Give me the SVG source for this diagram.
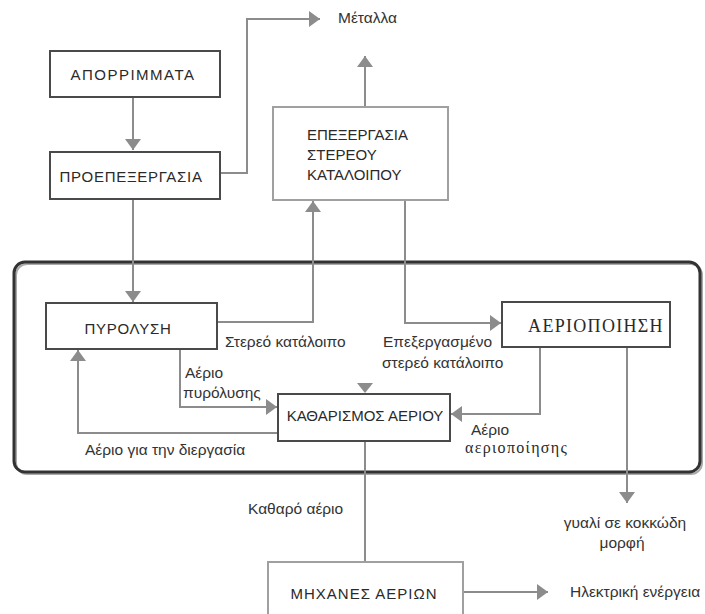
<svg xmlns="http://www.w3.org/2000/svg" width="705" height="614" viewBox="0 0 705 614">
<defs>
<marker id="ah" viewBox="0 0 11 16" refX="11" refY="8" markerWidth="11" markerHeight="16" markerUnits="userSpaceOnUse" orient="auto">
<path d="M0,0 L11,8 L0,16 z" fill="#8c8c8c"/>
</marker>
<style>
.box{fill:#fff;stroke:#4a4a4a;stroke-width:2}
.lbox{fill:#fff;stroke:#a0a0a0;stroke-width:2}
.c{fill:none;stroke:#8c8c8c;stroke-width:2}
.t{font-family:"Liberation Sans",Arial,sans-serif;font-size:15px;fill:#2a2a2a}
.l{font-family:"Liberation Sans",Arial,sans-serif;font-size:15.5px;fill:#333}
.s{font-family:"Liberation Serif","Times New Roman",serif;fill:#2a2a2a}
</style>
</defs>
<rect width="705" height="614" fill="#fff"/>
<g id="frame">
<rect x="16" y="264" width="686" height="210" rx="11" fill="none" stroke="#aaa" stroke-width="2"/>
<rect x="14" y="262" width="686" height="210" rx="11" fill="none" stroke="#333" stroke-width="3"/>
</g>
<g id="connectors">
<path class="c" d="M133,97 V150" marker-end="url(#ah)"/>
<path class="c" d="M220,173 H247 V19 H320" marker-end="url(#ah)"/>
<path class="c" d="M365,107 V56" marker-end="url(#ah)"/>
<path class="c" d="M133,199 V302" marker-end="url(#ah)"/>
<path class="c" d="M217,322 H313 V201" marker-end="url(#ah)"/>
<path class="c" d="M405,200 V323 H501" marker-end="url(#ah)"/>
<path class="c" d="M180,349 V407 H277" marker-end="url(#ah)"/>
<path class="c" d="M278,433 H78 V350" marker-end="url(#ah)"/>
<path class="c" d="M540,347 V414 H451" marker-end="url(#ah)"/>
<path d="M357,383 L373,383 L365,393 z" fill="#8c8c8c"/>
<path class="c" d="M627,347 V503" marker-end="url(#ah)"/>
<path class="c" d="M365,441 V562"/>
<path class="c" d="M463,592 H548" marker-end="url(#ah)"/>
</g>
<g id="aporrimmata">
<rect class="box" x="50" y="51" width="170" height="46"/>
<text class="t" x="133" y="80" text-anchor="middle" font-size="16" letter-spacing="1.5">ΑΠΟΡΡΙΜΜΑΤΑ</text>
</g>
<g id="proepexergasia">
<rect class="box" x="50" y="152" width="170" height="47"/>
<text class="t" x="131" y="182" text-anchor="middle" font-size="16" letter-spacing="0.7">ΠΡΟΕΠΕΞΕΡΓΑΣΙΑ</text>
</g>
<g id="epexergasia">
<rect class="lbox" x="273" y="107" width="175" height="93"/>
<text class="t" x="307" y="140">ΕΠΕΞΕΡΓΑΣΙΑ</text>
<text class="t" x="307" y="160">ΣΤΕΡΕΟΥ</text>
<text class="t" x="307" y="180">ΚΑΤΑΛΟΙΠΟΥ</text>
</g>
<g id="pyrolysi">
<rect class="box" x="46" y="303" width="171" height="46"/>
<text class="t" x="128" y="334" text-anchor="middle" letter-spacing="0.7">ΠΥΡΟΛΥΣΗ</text>
</g>
<g id="aeriopoiisi">
<rect class="box" x="502" y="302" width="168" height="45"/>
<text class="s" x="596" y="332" text-anchor="middle" font-size="18" letter-spacing="1.3">ΑΕΡΙΟΠΟΙΗΣΗ</text>
</g>
<g id="katharismos">
<rect class="box" x="278" y="394" width="172" height="47"/>
<text class="t" x="365" y="421" text-anchor="middle">ΚΑΘΑΡΙΣΜΟΣ ΑΕΡΙΟΥ</text>
</g>
<g id="michanes">
<rect class="lbox" x="268" y="562" width="195" height="60"/>
<text class="t" x="364" y="599" text-anchor="middle" font-size="16" letter-spacing="1">ΜΗΧΑΝΕΣ ΑΕΡΙΩΝ</text>
</g>
<g id="labels">
<text class="l" x="338" y="23">Μέταλλα</text>
<text class="l" x="225" y="347">Στερεό κατάλοιπο</text>
<text class="l" x="185" y="378">Αέριο</text>
<text class="l" x="183" y="398">πυρόλυσης</text>
<text class="l" x="85" y="455">Αέριο για την διεργασία</text>
<text class="l" x="383" y="347">Επεξεργασμένο</text>
<text class="l" x="382" y="368">στερεό κατάλοιπο</text>
<text class="l" x="471" y="435">Αέριο</text>
<text class="s" x="465" y="453" font-size="16" letter-spacing="1.3">αεριοποίησης</text>
<text class="l" x="248" y="514">Καθαρό αέριο</text>
<text class="l" x="625" y="528" text-anchor="middle">γυαλί σε κοκκώδη</text>
<text class="l" x="622" y="548" text-anchor="middle">μορφή</text>
<text class="l" x="570" y="597">Ηλεκτρική ενέργεια</text>
</g>
</svg>
